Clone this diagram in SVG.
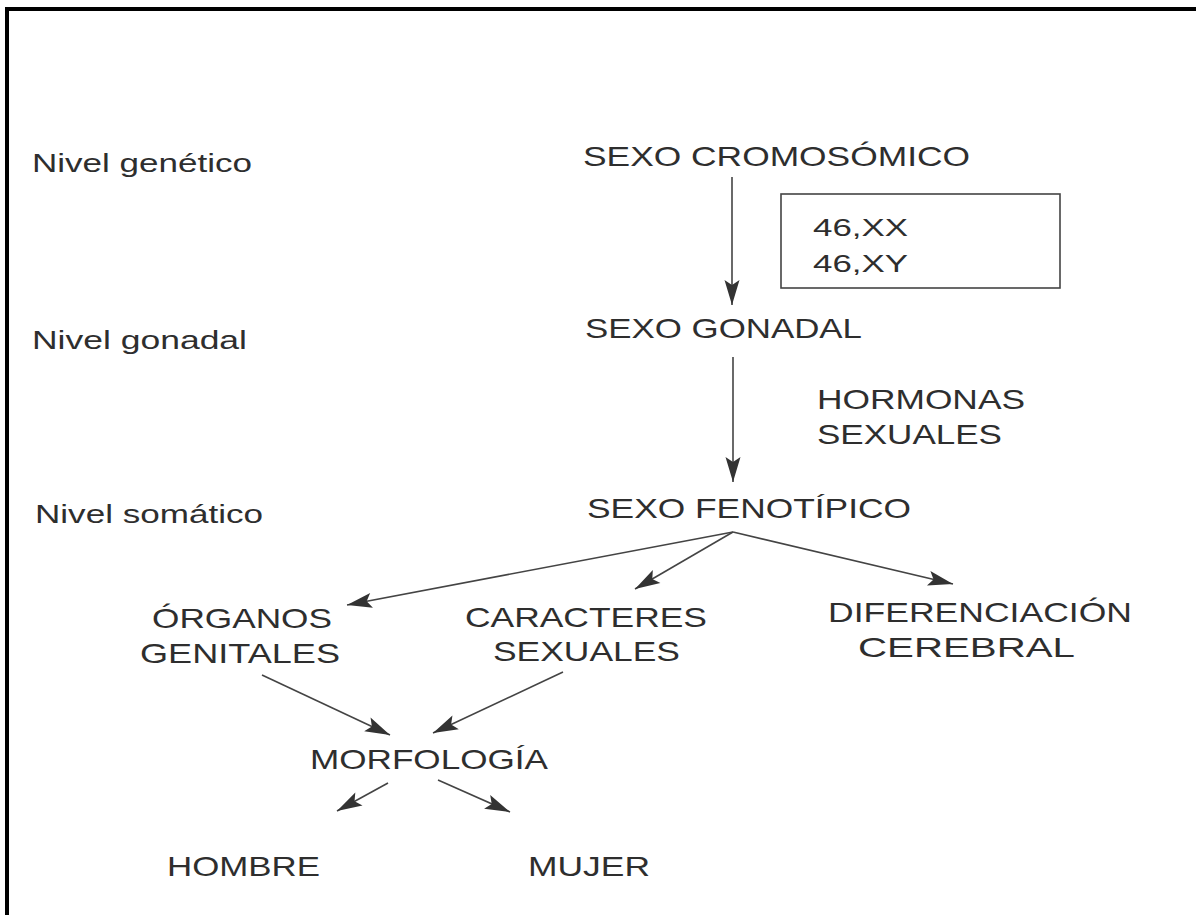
<svg xmlns="http://www.w3.org/2000/svg" width="1196" height="915" viewBox="0 0 1196 915">
<style>
text{font-family:"Liberation Sans",Arial,sans-serif;fill:#2e2e2e}
.lv{font-size:25px}
.lb{font-size:28px}
.sm{font-size:23px}
.c{stroke:#444;stroke-width:1.6;fill:none}
</style>
<defs>
<marker id="ah" markerUnits="userSpaceOnUse" markerWidth="30" markerHeight="20" viewBox="-26 -10 28 20" refX="0" refY="0" orient="auto">
<path d="M0,0 L-25,-7.5 L-20,0 L-25,7.5 Z" fill="#333"/>
</marker>
</defs>
<rect width="1196" height="915" fill="#fff"/>
<g id="frame">
<line x1="7" y1="9" x2="1196" y2="9" stroke="#000" stroke-width="4"/>
<line x1="7" y1="7" x2="7" y2="915" stroke="#000" stroke-width="4"/>
</g>
<g id="levels">
<text class="lv" x="32" y="172" textLength="220" lengthAdjust="spacingAndGlyphs">Nivel genético</text>
<text class="lv" x="32" y="349" textLength="215" lengthAdjust="spacingAndGlyphs">Nivel gonadal</text>
<text class="lv" x="35" y="523" textLength="228" lengthAdjust="spacingAndGlyphs">Nivel somático</text>
</g>
<g id="n-cromosomico"><text class="lb" x="583" y="166" textLength="387" lengthAdjust="spacingAndGlyphs">SEXO CROMOSÓMICO</text></g>
<g id="n-cariotipo">
<rect x="781" y="194" width="279" height="94" fill="none" stroke="#444" stroke-width="1.6"/>
<text class="sm" x="813" y="236" textLength="95" lengthAdjust="spacingAndGlyphs">46,XX</text>
<text class="sm" x="813" y="272" textLength="95" lengthAdjust="spacingAndGlyphs">46,XY</text>
</g>
<g id="n-gonadal"><text class="lb" x="585" y="338" textLength="277" lengthAdjust="spacingAndGlyphs">SEXO GONADAL</text></g>
<g id="n-hormonas">
<text class="lb" x="817" y="409" textLength="208" lengthAdjust="spacingAndGlyphs">HORMONAS</text>
<text class="lb" x="817" y="444" textLength="185" lengthAdjust="spacingAndGlyphs">SEXUALES</text>
</g>
<g id="n-fenotipico"><text class="lb" x="587" y="518" textLength="324" lengthAdjust="spacingAndGlyphs">SEXO FENOTÍPICO</text></g>
<g id="n-organos">
<text class="lb" x="152" y="628" textLength="180" lengthAdjust="spacingAndGlyphs">ÓRGANOS</text>
<text class="lb" x="140" y="663" textLength="200" lengthAdjust="spacingAndGlyphs">GENITALES</text>
</g>
<g id="n-caracteres">
<text class="lb" x="465" y="627" textLength="242" lengthAdjust="spacingAndGlyphs">CARACTERES</text>
<text class="lb" x="493" y="661" textLength="187" lengthAdjust="spacingAndGlyphs">SEXUALES</text>
</g>
<g id="n-cerebral">
<text class="lb" x="828" y="622" textLength="304" lengthAdjust="spacingAndGlyphs">DIFERENCIACIÓN</text>
<text class="lb" x="858" y="657" textLength="217" lengthAdjust="spacingAndGlyphs">CEREBRAL</text>
</g>
<g id="n-morfologia"><text class="lb" x="310" y="769" textLength="238" lengthAdjust="spacingAndGlyphs">MORFOLOGÍA</text></g>
<g id="n-hombre"><text class="lb" x="167" y="876" textLength="153" lengthAdjust="spacingAndGlyphs">HOMBRE</text></g>
<g id="n-mujer"><text class="lb" x="528" y="876" textLength="122" lengthAdjust="spacingAndGlyphs">MUJER</text></g>
<g id="connectors">
<line class="c" x1="732" y1="177" x2="732" y2="305" marker-end="url(#ah)"/>
<line class="c" x1="733" y1="357" x2="733" y2="482" marker-end="url(#ah)"/>
<line class="c" x1="733" y1="532" x2="347" y2="605" marker-end="url(#ah)"/>
<line class="c" x1="733" y1="532" x2="635" y2="589" marker-end="url(#ah)"/>
<line class="c" x1="733" y1="532" x2="953" y2="584" marker-end="url(#ah)"/>
<line class="c" x1="262" y1="675" x2="390" y2="735" marker-end="url(#ah)"/>
<line class="c" x1="563" y1="672" x2="433" y2="733" marker-end="url(#ah)"/>
<line class="c" x1="388" y1="783" x2="337" y2="811" marker-end="url(#ah)"/>
<line class="c" x1="438" y1="780" x2="510" y2="812" marker-end="url(#ah)"/>
</g>
</svg>
